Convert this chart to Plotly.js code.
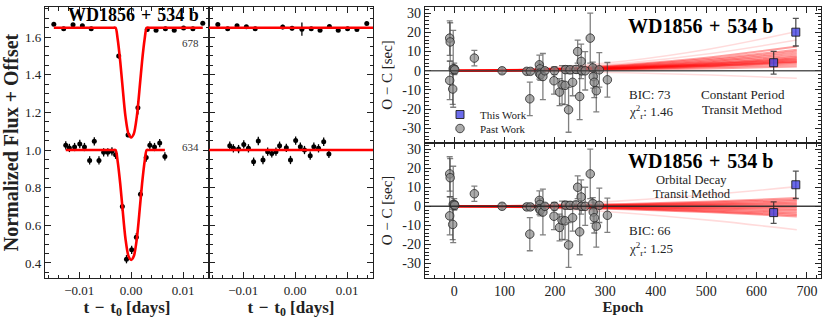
<!DOCTYPE html>
<html>
<head>
<meta charset="utf-8">
<script src="https://cdn.plot.ly/plotly-3.0.1.min.js"></script>
<style>
  html, body { margin: 0; padding: 0; background: #fff; }
  #chart { width: 830px; height: 321px; }
</style>
</head>
<body>
<div id="chart"></div>
<script>
// ---- light curves (left panels) ----
// epoch 678, shown with +0.65 offset
const t678 = [-0.0149, -0.0130, -0.0112, -0.0094, -0.0077, -0.0024, -0.0006, 0.0013, 0.0031, 0.0048, 0.0066, 0.0083, 0.0101, 0.0119, 0.0138];
const f678 = [1.668, 1.645, 1.666, 1.661, 1.645, 1.499, 1.080, 1.224, 1.640, 1.637, 1.645, 1.637, 1.648, 1.645, 1.674];
const e678 = [0.006, 0.006, 0.006, 0.006, 0.006, 0.012, 0.012, 0.035, 0.006, 0.006, 0.006, 0.006, 0.006, 0.006, 0.006];
const r678 = [1.667, 1.645, 1.660, 1.655, 1.645, 1.654, 1.647, 1.642, 1.645, 1.637, 1.657, 1.636, 1.645, 1.640, 1.672];
const re678 = [0.006, 0.006, 0.006, 0.006, 0.006, 0.012, 0.012, 0.035, 0.006, 0.006, 0.006, 0.006, 0.006, 0.006, 0.006];

// epoch 634
const t634 = [-0.0126, -0.0119, -0.0109, -0.0099, -0.0090, -0.0080, -0.0071, -0.0062, -0.0053, -0.0045, -0.0037, -0.0030, -0.0017, -0.0009, 0.0001, 0.0010, 0.0018, 0.0029, 0.0036, 0.0045, 0.0055, 0.0065];
const f634 = [1.025, 1.011, 1.016, 1.032, 1.016, 0.945, 1.046, 0.945, 0.988, 0.988, 0.993, 0.975, 0.700, 0.420, 0.470, 0.537, 0.765, 0.960, 1.025, 1.016, 1.037, 0.966];
const r634 = [1.023, 1.009, 1.005, 1.030, 1.009, 0.938, 1.048, 0.947, 0.991, 0.982, 0.991, 1.023, 1.012, 0.947, 1.050, 1.018, 1.000, 0.970, 1.018, 1.009, 1.044, 0.979];
const e634 = [0.022, 0.022, 0.022, 0.022, 0.022, 0.022, 0.022, 0.022, 0.022, 0.022, 0.022, 0.022, 0.022, 0.022, 0.022, 0.022, 0.022, 0.022, 0.022, 0.022, 0.022, 0.022];

// transit model curves
const modelT678 = [-0.0149, -0.0040, -0.0034, -0.0030, -0.0026, -0.0021, -0.0017, -0.0011, -0.0005, 0, 0.0005, 0.0011, 0.0017, 0.0021, 0.0026, 0.0030, 0.0034, 0.0040, 0.0138];
const modelF678 = [1.65, 1.65, 1.65, 1.65, 1.59, 1.47, 1.35, 1.18, 1.085, 1.067, 1.085, 1.18, 1.35, 1.47, 1.59, 1.65, 1.65, 1.65, 1.65];
const modelT634 = [-0.0126, -0.0040, -0.0034, -0.0030, -0.0026, -0.0021, -0.0017, -0.0011, -0.0005, 0, 0.0005, 0.0011, 0.0017, 0.0021, 0.0026, 0.0030, 0.0034, 0.0040, 0.0065];
const modelF634 = [1.0, 1.0, 1.0, 1.0, 0.94, 0.82, 0.70, 0.53, 0.435, 0.416, 0.435, 0.53, 0.70, 0.82, 0.94, 1.0, 1.0, 1.0, 1.0];

// ---- O-C timing (right panels) ----
const pastEpoch = [-9, -8, -9, -3, -2, 0, 1, 40, 95, 144, 150, 151, 169, 170, 169, 171, 176, 180, 198, 199, 209, 214, 220, 221, 227, 230, 235, 242, 245, 249, 252, 253, 260, 270, 275, 276, 278, 282, 288, 304];
const pastOC = [17, 15, -5, -9.5, 1, 1, 0.5, 6.6, 0, -0.3, -14.6, -0.3, 3.1, 1, -1.3, -2, -3, 0, -5.2, 0, -11.1, -7.3, -7.6, 0.6, -20.3, 0.5, -6, 0.7, 10, -13.4, 4.9, 0, 0, 17, 1.5, -3, -6, -10.4, 0.5, -4.7];
const pastErr = [9, 10, 10, 8, 20, 3, 2, 4, 1.5, 1.5, 8.7, 1.5, 5, 3, 3, 3, 12, 1.5, 7, 2, 7, 10, 10, 2, 11.7, 2, 7, 2, 6, 12, 9, 2, 10, 13, 3, 6, 8, 11, 9, 9];

const thisEpoch = [634, 678];
const thisOCconst = [4.2, 20.1];
const thisOCdecay = [-3.3, 11.3];
const thisErrConst = [5.9, 7.2];
const thisErrDecay = [5.6, 7.2];

// posterior model draws, O-C sampled at these epochs
const fanEpoch = [0, 170, 340, 510, 680];
const constFan = [
  [0, 0.8, 3.2, 7.1, 12.6],
  [0, 0.7, 2.8, 6.2, 11],
  [0, 0.6, 2.5, 5.6, 10],
  [0, 0.55, 2.2, 5.0, 9],
  [0, 0.5, 2.0, 4.5, 8],
  [0, 0.45, 1.8, 4.0, 7.2],
  [0, 0.4, 1.6, 3.7, 6.5],
  [0, 0.38, 1.5, 3.4, 6.0],
  [0, 0.35, 1.4, 3.2, 5.5],
  [0, 0.3, 1.3, 2.8, 5],
  [0, 0.28, 1.15, 2.6, 4.6],
  [0, 0.25, 1.05, 2.4, 4.2],
  [0, 0.2, 0.8, 1.9, 3.3],
  [0, 0.15, 0.55, 1.2, 2.2]
];
const constFanFaint = [
  [0, 1.3, 5.1, 11.5, 20.4],
  [0, 1.0, 4.0, 9.0, 16],
  [0, -0.25, -1.0, -2.2, -3.9]
];
const decayFan = [
  [0, 0.3, 1.2, 2.5, 4.3],
  [0, 0.25, 0.95, 2.0, 3.4],
  [0, 0.2, 0.7, 1.5, 2.6],
  [0, 0.15, 0.5, 1.05, 1.8],
  [0, 0.1, 0.3, 0.65, 1.1],
  [0, 0.03, 0.1, 0.25, 0.4],
  [0, -0.03, -0.1, -0.25, -0.4],
  [0, -0.1, -0.35, -0.7, -1.2],
  [0, -0.15, -0.55, -1.15, -2.0],
  [0, -0.2, -0.8, -1.7, -2.9],
  [0, -0.3, -1.05, -2.2, -3.8],
  [0, -0.35, -1.3, -2.7, -4.6],
  [0, -0.4, -1.5, -3.1, -5.3]
];
const decayFanFaint = [
  [0, 0.8, 3.0, 6.2, 10.3],
  [0, -0.9, -3.5, -7.4, -12.3]
];

const ocTicks = [-30, -20, -10, 0, 10, 20, 30];
const ocTickText = ['-30', '-20', '-10', '0', '10', '20', '30'];

const W = 830, H = 321;
const SERIF = 'Liberation Serif, Times New Roman, serif';
const INK = '#222';
const SP = '\u2004'; // slightly wider than a normal space, like math-mode spacing

const traces = [];

// left panel: light curves + model
function lcPoints(x, y, err, xa, ya) {
  return {
    x: x, y: y, xaxis: xa, yaxis: ya, type: 'scatter', mode: 'markers',
    marker: { color: '#000', size: 5 },
    error_y: { type: 'data', array: err, visible: true, color: '#000', thickness: 1.3, width: 0 },
    showlegend: false, hoverinfo: 'skip'
  };
}
traces.push(lcPoints(t678, f678, e678, 'x', 'y'));
traces.push(lcPoints(t634, f634, e634, 'x', 'y'));
[[modelT678, modelF678], [modelT634, modelF634]].forEach(m => {
  traces.push({
    x: m[0], y: m[1], xaxis: 'x', yaxis: 'y', type: 'scatter', mode: 'lines',
    line: { color: '#ff0000', width: 2.6, shape: 'spline', smoothing: 0.8 },
    showlegend: false, hoverinfo: 'skip'
  });
});
traces.push(lcPoints(t678, r678, re678, 'x2', 'y2'));
traces.push(lcPoints(t634, r634, e634, 'x2', 'y2'));

// right panels: model fans
function fan(rows, xa, ya, alpha, width) {
  rows.forEach(r => {
    traces.push({
      x: fanEpoch, y: r, xaxis: xa, yaxis: ya, type: 'scatter', mode: 'lines',
      line: { color: 'rgba(255,0,0,' + alpha + ')', width: width, shape: 'spline' },
      showlegend: false, hoverinfo: 'skip'
    });
  });
}
fan(constFanFaint, 'x3', 'y3', 0.14, 1.6);
fan(constFan, 'x3', 'y3', 0.38, 2);
fan(decayFanFaint, 'x4', 'y4', 0.14, 1.6);
fan(decayFan, 'x4', 'y4', 0.38, 2);

function past(xa, ya, legend) {
  return {
    x: pastEpoch, y: pastOC, xaxis: xa, yaxis: ya, type: 'scatter', mode: 'markers',
    name: 'Past Work', showlegend: legend, legend: 'legend2',
    marker: { color: 'rgba(135,135,135,0.7)', size: 8.5, line: { color: 'rgba(40,40,40,0.8)', width: 1 } },
    error_y: { type: 'data', array: pastErr, visible: true, color: 'rgba(60,60,60,0.65)', thickness: 1.3, width: 3 },
    hoverinfo: 'skip'
  };
}
function mine(oc, err, xa, ya, legend) {
  return {
    x: thisEpoch, y: oc, xaxis: xa, yaxis: ya, type: 'scatter', mode: 'markers',
    name: 'This Work', showlegend: legend, legend: 'legend',
    marker: { symbol: 'square', color: 'rgba(70,70,230,0.8)', size: 8, line: { color: 'rgba(30,30,30,0.9)', width: 1 } },
    error_y: { type: 'data', array: err, visible: true, color: 'rgba(40,40,40,0.8)', thickness: 1.3, width: 3 },
    hoverinfo: 'skip'
  };
}
traces.push(past('x3', 'y3', true));
traces.push(mine(thisOCconst, thisErrConst, 'x3', 'y3', true));
traces.push(past('x4', 'y4', false));
traces.push(mine(thisOCdecay, thisErrDecay, 'x4', 'y4', false));

function axis(extra) {
  return Object.assign({
    showline: true, mirror: 'ticks', linecolor: INK, linewidth: 1.2,
    ticks: 'inside', ticklen: 6, tickwidth: 1, tickcolor: INK,
    showgrid: false, zeroline: false,
    tickfont: { family: SERIF, size: 13, color: INK },
    minor: { ticks: 'inside', ticklen: 3.5, tickwidth: 1, tickcolor: INK, showgrid: false }
  }, extra);
}
const px = v => v / W;
const py = v => 1 - v / H;

const lcRange = [-0.0166, 0.0150];
const fluxRange = [0.32, 1.76];
const epochRange = [-58, 728];
const ocRange = [-37.6, 33.2];

const legendStyle = {
  xanchor: 'left', yanchor: 'top', bgcolor: 'rgba(0,0,0,0)',
  font: { family: SERIF, size: 11, color: INK }, itemwidth: 30
};
const tdays = '<b>t' + SP + '−' + SP + 't<sub>0</sub> [days]</b>';
const name = '<b>WD1856' + SP + '+' + SP + '534 b</b>';

const layout = {
  width: W, height: H,
  margin: { l: 0, r: 0, t: 0, b: 0 },
  paper_bgcolor: '#fff', plot_bgcolor: '#fff',
  font: { family: SERIF, color: INK },
  showlegend: true,
  legend: Object.assign({ x: px(440), y: py(100) }, legendStyle),
  legend2: Object.assign({ x: px(440), y: py(114) }, legendStyle),
  xaxis: axis({
    domain: [px(45), px(209)], range: lcRange, anchor: 'y',
    dtick: 0.01, tick0: 0, tickformat: '.2f', minor: { dtick: 0.002, ticks: 'inside', ticklen: 3.5, tickcolor: INK },
    title: { text: tdays, font: { family: SERIF, size: 17, color: INK }, standoff: 1 }
  }),
  yaxis: axis({
    domain: [py(278), py(7)], range: fluxRange, anchor: 'x',
    dtick: 0.2, tick0: 0, tickformat: '.1f', minor: { dtick: 0.05, ticks: 'inside', ticklen: 3.5, tickcolor: INK },
    title: { text: '<b>Normalized Flux + Offset</b>', font: { family: SERIF, size: 20, color: INK }, standoff: 2 }
  }),
  xaxis2: axis({
    domain: [px(209), px(373)], range: lcRange, anchor: 'y2',
    dtick: 0.01, tick0: 0, tickformat: '.2f', minor: { dtick: 0.002, ticks: 'inside', ticklen: 3.5, tickcolor: INK },
    title: { text: tdays, font: { family: SERIF, size: 17, color: INK }, standoff: 1 }
  }),
  yaxis2: axis({
    domain: [py(278), py(7)], range: fluxRange, anchor: 'x2', showticklabels: false,
    dtick: 0.2, tick0: 0, minor: { dtick: 0.05, ticks: 'inside', ticklen: 3.5, tickcolor: INK }
  }),
  xaxis3: axis({
    domain: [px(425), px(821)], range: epochRange, anchor: 'y3', showticklabels: false,
    dtick: 100, tick0: 0, minor: { dtick: 20, ticks: 'inside', ticklen: 3.5, tickcolor: INK }
  }),
  yaxis3: axis({
    domain: [py(143), py(7)], range: ocRange, anchor: 'x3',
    tickmode: 'array', tickvals: ocTicks, ticktext: ocTickText, tickfont: { family: SERIF, size: 14, color: INK },
    minor: { dtick: 2, tick0: 0, ticks: 'inside', ticklen: 3.5, tickcolor: INK },
    title: { text: 'O − C [sec]', font: { family: SERIF, size: 15, color: INK }, standoff: 6 }
  }),
  xaxis4: axis({
    domain: [px(425), px(821)], range: epochRange, anchor: 'y4',
    dtick: 100, tick0: 0, tickfont: { family: SERIF, size: 14, color: INK },
    minor: { dtick: 20, ticks: 'inside', ticklen: 3.5, tickcolor: INK },
    title: { text: '<b>Epoch</b>', font: { family: SERIF, size: 15, color: INK }, standoff: 1 }
  }),
  yaxis4: axis({
    domain: [py(278), py(143)], range: ocRange, anchor: 'x4',
    tickmode: 'array', tickvals: ocTicks, ticktext: ocTickText, tickfont: { family: SERIF, size: 14, color: INK },
    minor: { dtick: 2, tick0: 0, ticks: 'inside', ticklen: 3.5, tickcolor: INK },
    title: { text: 'O − C [sec]', font: { family: SERIF, size: 15, color: INK }, standoff: 6 }
  }),
  shapes: [
    { type: 'line', xref: 'x2 domain', x0: 0, x1: 1, yref: 'y2', y0: 1.65, y1: 1.65, line: { color: '#ff0000', width: 2.6 } },
    { type: 'line', xref: 'x2 domain', x0: 0, x1: 1, yref: 'y2', y0: 1.0, y1: 1.0, line: { color: '#ff0000', width: 2.6 } },
    { type: 'line', xref: 'x3 domain', x0: 0, x1: 1, yref: 'y3', y0: 0, y1: 0, line: { color: 'rgba(60,60,60,0.85)', width: 1.4 } },
    { type: 'line', xref: 'x4 domain', x0: 0, x1: 1, yref: 'y4', y0: 0, y1: 0, line: { color: 'rgba(40,40,40,0.9)', width: 1.4 } }
  ],
  annotations: [
    { xref: 'x', yref: 'y', x: 0.0004, y: 1.716, text: name, showarrow: false, font: { family: SERIF, size: 18, color: '#000' } },
    { xref: 'x', yref: 'y', x: 0.0114, y: 1.57, text: '678', showarrow: false, font: { family: SERIF, size: 11, color: '#333' } },
    { xref: 'x', yref: 'y', x: 0.0114, y: 1.017, text: '634', showarrow: false, font: { family: SERIF, size: 11, color: '#333' } },

    { xref: 'x3', yref: 'y3', x: 488, y: 23.4, text: name, showarrow: false, font: { family: SERIF, size: 20, color: '#000' } },
    { xref: 'x3', yref: 'y3', x: 342, y: -12.6, xanchor: 'left', text: 'BIC: 73', showarrow: false, font: { family: SERIF, size: 13, color: INK } },
    { xref: 'x3', yref: 'y3', x: 342, y: -21.2, xanchor: 'left', text: 'χ<sup>2</sup><sub>r</sub>: 1.46', showarrow: false, font: { family: SERIF, size: 13, color: INK } },
    { xref: 'x3', yref: 'y3', x: 573, y: -12.6, text: 'Constant Period', showarrow: false, font: { family: SERIF, size: 13, color: INK } },
    { xref: 'x3', yref: 'y3', x: 573, y: -20.4, text: 'Transit Method', showarrow: false, font: { family: SERIF, size: 13, color: INK } },

    { xref: 'x4', yref: 'y4', x: 488, y: 24.0, text: name, showarrow: false, font: { family: SERIF, size: 20, color: '#000' } },
    { xref: 'x4', yref: 'y4', x: 471, y: 13.6, text: 'Orbital Decay', showarrow: false, font: { family: SERIF, size: 12.5, color: INK } },
    { xref: 'x4', yref: 'y4', x: 471, y: 6.6, text: 'Transit Method', showarrow: false, font: { family: SERIF, size: 12.5, color: INK } },
    { xref: 'x4', yref: 'y4', x: 342, y: -12.6, xanchor: 'left', text: 'BIC: 66', showarrow: false, font: { family: SERIF, size: 13, color: INK } },
    { xref: 'x4', yref: 'y4', x: 342, y: -22.2, xanchor: 'left', text: 'χ<sup>2</sup><sub>r</sub>: 1.25', showarrow: false, font: { family: SERIF, size: 13, color: INK } }
  ]
};

Plotly.newPlot('chart', traces, layout, { staticPlot: true, displayModeBar: false });
</script>
</body>
</html>
